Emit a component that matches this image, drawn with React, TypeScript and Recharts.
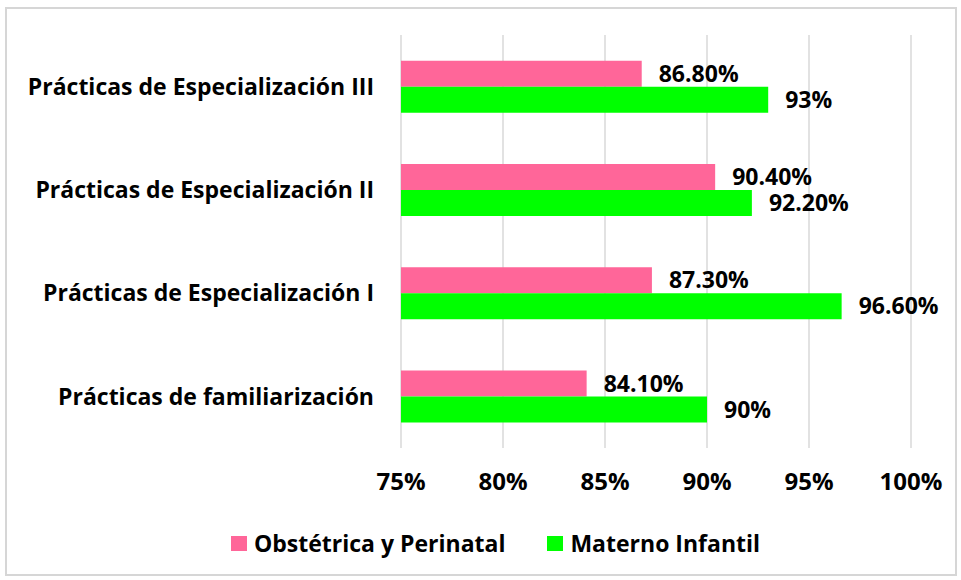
import React from "react";
import { BarChart, Bar, XAxis, YAxis, CartesianGrid, Legend, LabelList } from "recharts";

const categories = [
  "Prácticas de Especialización III",
  "Prácticas de Especialización II",
  "Prácticas de Especialización I",
  "Prácticas de familiarización",
];
const obstetrica = [86.8, 90.4, 87.3, 84.1];
const materno = [93, 92.2, 96.6, 90];
const xTicks = [75, 80, 85, 90, 95, 100];
const seriesNames = ["Obstétrica y Perinatal", "Materno Infantil"];
const seriesColors = ["#ff6699", "#00ff00"];

const data = categories.map((name, i) => ({
  name,
  obstetrica: obstetrica[i],
  materno: materno[i],
}));

const FONT = "'Open Sans', sans-serif";

const fmtLabel = (v: any) => {
  const n = Number(v);
  return Number.isInteger(n) ? `${n}%` : `${n.toFixed(2)}%`;
};

const LegendContent = () => (
  <div style={{ display: "flex", justifyContent: "center", alignItems: "center", height: 30, gap: 42 }}>
    {seriesNames.map((n, i) => (
      <div key={n} style={{ display: "flex", alignItems: "center" }}>
        <span style={{ width: 16, height: 15, background: seriesColors[i], marginRight: 7, display: "inline-block" }} />
        <span style={{ color: "#000", fontSize: 23, fontWeight: 700, fontFamily: FONT, lineHeight: "30px" }}>{n}</span>
      </div>
    ))}
  </div>
);

export default function App() {
  return (
    <div style={{ position: "absolute", left: 0, top: 0, width: 961, height: 580, fontFamily: FONT, background: "#fff" }}>
      <BarChart
        width={961}
        height={580}
        data={data}
        layout="vertical"
        margin={{ top: 35, right: 50, left: 0, bottom: 22 }}
        barCategoryGap="25%"
        barGap={0}
      >
        <CartesianGrid horizontal={false} stroke="#d9d9d9" strokeWidth={1.5} />
        <XAxis
          type="number"
          domain={[75, 100]}
          ticks={xTicks}
          allowDataOverflow
          axisLine={false}
          tickLine={false}
          tickSize={0}
          tickMargin={25}
          height={80}
          tickFormatter={(v) => `${v}%`}
          tick={{ fill: "#000", fontSize: 24, fontWeight: 700, fontFamily: FONT }}
        />
        <YAxis
          type="category"
          dataKey="name"
          width={401}
          axisLine={false}
          tickLine={false}
          tickSize={0}
          tickMargin={27}
          tick={{ fill: "#000", fontSize: 23, fontWeight: 700, fontFamily: FONT }}
        />
        <Legend verticalAlign="bottom" align="center" content={LegendContent} wrapperStyle={{ left: 40 }} />
        <Bar dataKey="obstetrica" name={seriesNames[0]} fill={seriesColors[0]} isAnimationActive={false}>
          <LabelList
            dataKey="obstetrica"
            position="right"
            offset={17}
            formatter={fmtLabel}
            style={{ fill: "#000", fontSize: 23, fontWeight: 700, fontFamily: FONT }}
          />
        </Bar>
        <Bar dataKey="materno" name={seriesNames[1]} fill={seriesColors[1]} isAnimationActive={false}>
          <LabelList
            dataKey="materno"
            position="right"
            offset={17}
            formatter={fmtLabel}
            style={{ fill: "#000", fontSize: 23, fontWeight: 700, fontFamily: FONT }}
          />
        </Bar>
      </BarChart>
      <div
        style={{
          position: "absolute",
          left: 5,
          top: 7,
          width: 952,
          height: 569,
          border: "2px solid #d6d6d6",
          boxSizing: "border-box",
          pointerEvents: "none",
        }}
      />
    </div>
  );
}
